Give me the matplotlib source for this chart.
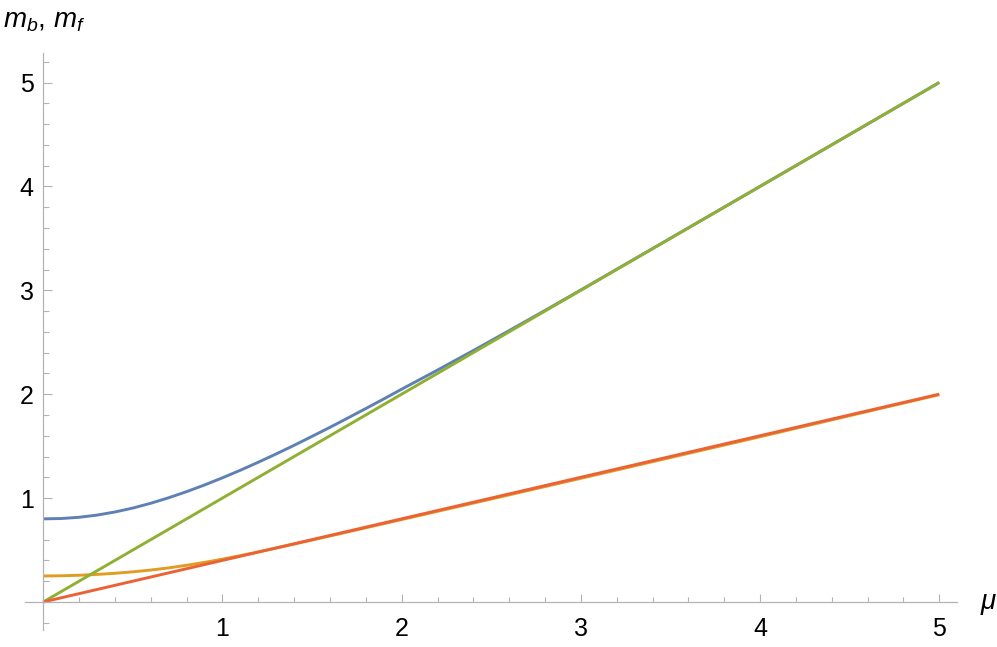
import matplotlib
matplotlib.use('Agg')
import matplotlib.pyplot as plt
from matplotlib.ticker import MultipleLocator, FixedLocator

plt.rcParams['font.family'] = ['Liberation Sans', 'DejaVu Sans']
plt.rcParams['mathtext.fontset'] = 'custom'
plt.rcParams['mathtext.it'] = 'Liberation Sans:italic'
plt.rcParams['mathtext.rm'] = 'Liberation Sans'

# values
mu_b = [0, 0.1, 0.2, 0.3, 0.4, 0.5, 0.6, 0.7, 0.8, 0.9, 1.0, 1.1, 1.2, 1.3, 1.4,
        1.5, 1.6, 1.7, 1.8, 1.9, 2.0, 2.2, 2.4, 2.6, 2.8, 3.0, 3.5, 4.0, 4.5, 5.0]
m_blue = [0.80, 0.803, 0.815, 0.836, 0.866, 0.904, 0.95, 1.003, 1.062, 1.126, 1.195,
          1.268, 1.345, 1.425, 1.508, 1.594, 1.681, 1.771, 1.862, 1.954, 2.048,
          2.232, 2.42, 2.612, 2.806, 3.003, 3.501, 4.0, 4.5, 5.0]

mu_o = [0, 0.1, 0.2, 0.3, 0.4, 0.5, 0.6, 0.7, 0.8, 0.9, 1.0, 1.1, 1.2, 1.3, 1.4,
        1.5, 1.6, 1.8, 2.0, 2.5, 3.0, 3.5, 4.0, 4.5, 5.0]
m_orange = [0.25, 0.252, 0.257, 0.265, 0.276, 0.29, 0.307, 0.328, 0.353, 0.381, 0.412,
            0.446, 0.482, 0.519, 0.557, 0.596, 0.635, 0.714, 0.793, 0.991, 1.19, 1.39,
            1.59, 1.793, 1.995]

mu_g = [0, 5]
m_green = [0, 5]

mu_r = [0, 5]
m_red = [0, 2.0]

W, H = 997, 647
fig = plt.figure(figsize=(W / 100, H / 100), dpi=100)
ax = fig.add_axes([25 / W, 1 - 630 / H, (957 - 25) / W, (630 - 53) / H])

lw = 2.1
ax.plot(mu_b, m_blue, color='#5E81B5', lw=lw, solid_capstyle='butt')
ax.plot(mu_o, m_orange, color='#E19C24', lw=lw, solid_capstyle='butt')
ax.plot(mu_g, m_green, color='#8FB032', lw=lw, solid_capstyle='butt')
ax.plot(mu_r, m_red, color='#EB6235', lw=lw, solid_capstyle='butt')

ax.set_xlim(-0.102, 5.099)
ax.set_ylim(-0.27, 5.284)

axis_col = '#B3B3B3'
for s in ['top', 'right']:
    ax.spines[s].set_visible(False)
for s in ['left', 'bottom']:
    ax.spines[s].set_position(('data', 0))
    ax.spines[s].set_color(axis_col)
    ax.spines[s].set_linewidth(0.9)

ax.xaxis.set_major_locator(FixedLocator([1, 2, 3, 4, 5]))
ax.yaxis.set_major_locator(FixedLocator([1, 2, 3, 4, 5]))
ax.xaxis.set_minor_locator(MultipleLocator(0.2))
ax.yaxis.set_minor_locator(MultipleLocator(0.2))

ax.tick_params(which='both', direction='in', color=axis_col, width=0.8,
               labelsize=18, labelcolor='black')
ax.tick_params(axis='x', which='major', length=6.0, pad=11)
ax.tick_params(axis='x', which='minor', length=3.8)
ax.tick_params(axis='y', which='major', length=6.5, pad=7)
ax.tick_params(axis='y', which='minor', length=4.3)

fig.text(3 / W, 1 - 27 / H, r'$m_b$, $m_f$', fontsize=20, va='baseline', ha='left')
fig.text(980 / W, 1 - 609 / H, r'$\mu$', fontsize=20, va='baseline', ha='left')

fig.savefig('out.png', dpi=100)
